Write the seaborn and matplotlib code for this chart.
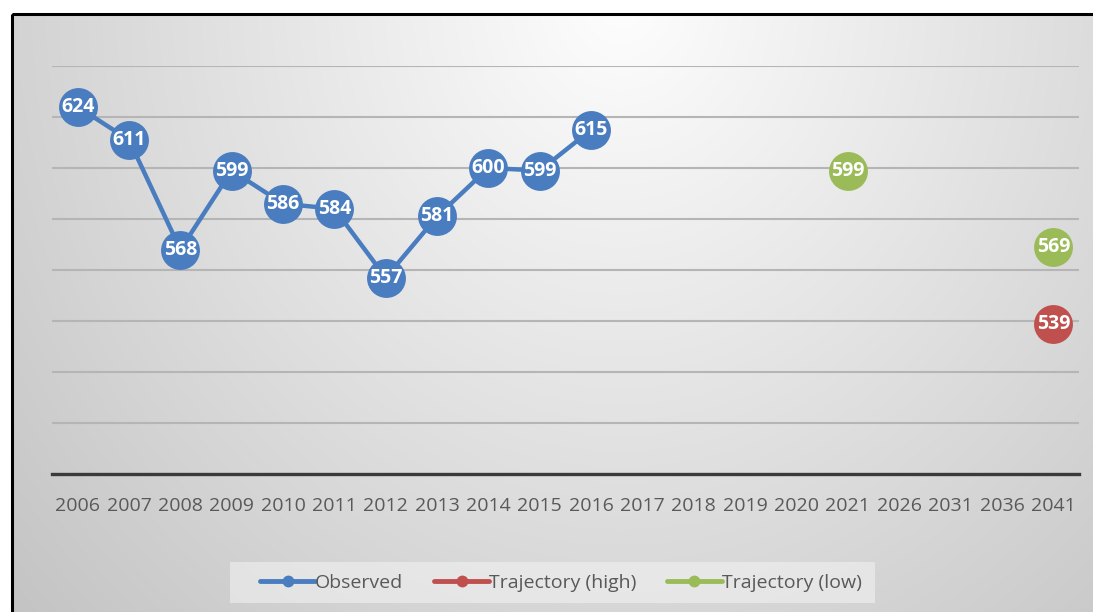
import numpy as np
import pandas as pd
import matplotlib
matplotlib.use("Agg")
import matplotlib.pyplot as plt
import seaborn as sns
from matplotlib.lines import Line2D
from matplotlib.patches import Rectangle

# ---- data ----
years = ["2006", "2007", "2008", "2009", "2010", "2011", "2012", "2013", "2014",
         "2015", "2016", "2017", "2018", "2019", "2020", "2021", "2026", "2031",
         "2036", "2041"]
observed_years = ["2006", "2007", "2008", "2009", "2010", "2011", "2012", "2013",
                  "2014", "2015", "2016"]
observed = [624, 611, 568, 599, 586, 584, 557, 581, 600, 599, 615]
high_years = ["2041"]
high = [539]
low_years = ["2021", "2041"]
low = [599, 569]
series_names = ["Observed", "Trajectory (high)", "Trajectory (low)"]

C_OBS = "#4a7dbf"
C_HIGH = "#c0504d"
C_LOW = "#9bbb59"

sns.set_theme(style="white")
plt.rcParams['font.family'] = ['Open Sans', 'DejaVu Sans']

W, H = 1093, 612
fig = plt.figure(figsize=(W / 100, H / 100), dpi=100)

# background gradient
bg = fig.add_axes([0, 0, 1, 1], zorder=-10)
yy, xx = np.mgrid[0:H, 0:W]
cx, cy = 620, 0
d = np.sqrt(((xx - cx) / 720.0) ** 2 + ((yy - cy) / 800.0) ** 2)
val = 0.995 - 0.2 * np.clip(d, 0, 1.3)
img = np.dstack([val, val, val])
img[:14, :, :] = 1.0
img[:, :12, :] = 1.0
bg.imshow(img, aspect="auto", extent=[0, W, H, 0], interpolation="bilinear")
bg.set_xlim(0, W)
bg.set_ylim(H, 0)
bg.axis("off")
bg.add_patch(Rectangle((12, 14), W + 20, H + 20, fill=False, edgecolor="black", lw=2.2))
# legend background box
bg.add_patch(Rectangle((230, 562), 645, 41, facecolor="#f4f4f4", alpha=0.55,
                       edgecolor="none"))

pos = {y: i for i, y in enumerate(years)}
df_obs = pd.DataFrame({"x": [pos[y] for y in observed_years], "v": observed})
df_high = pd.DataFrame({"x": [pos[y] for y in high_years], "v": high})
df_low = pd.DataFrame({"x": [pos[y] for y in low_years], "v": low})

ax = fig.add_axes([52 / W, 1 - 474 / H, (1079 - 52) / W, (474 - 66) / H])
ax.set_facecolor("none")

sns.lineplot(data=df_obs, x="x", y="v", ax=ax, color=C_OBS, lw=3.2,
             marker="o", markersize=28, markeredgewidth=0, zorder=3, legend=False)
sns.scatterplot(data=df_high, x="x", y="v", ax=ax, color=C_HIGH, s=28 ** 2,
                linewidth=0, zorder=3, legend=False)
sns.scatterplot(data=df_low, x="x", y="v", ax=ax, color=C_LOW, s=28 ** 2,
                linewidth=0, zorder=3, legend=False)

for d_ in (df_obs, df_high, df_low):
    for x, v in zip(d_["x"], d_["v"]):
        ax.text(x, v, f"{v}", ha="center", va="center", color="white",
                fontsize=14, fontweight="bold", zorder=5)

ax.set_xlim(-0.5, len(years) - 0.5)
ax.set_ylim(480, 640)
ax.set_yticks(np.arange(480, 641, 20))
ax.yaxis.grid(True, color="#b5b5b5", lw=1.5)
ax.set_axisbelow(True)
ax.tick_params(axis="y", left=False, labelleft=False)
ax.set_xticks(range(len(years)))
ax.set_xticklabels(years, fontsize=14, color="#595959")
ax.tick_params(axis="x", bottom=False, pad=10.5)
for s in ("top", "left", "right"):
    ax.spines[s].set_visible(False)
ax.spines["bottom"].set_color("#3a3a3a")
ax.spines["bottom"].set_linewidth(2.4)
ax.set_xlabel("")
ax.set_ylabel("")

handles = [
    Line2D([], [], color=C_OBS, lw=3.5, marker="o", markersize=7.5),
    Line2D([], [], color=C_HIGH, lw=3.5, marker="o", markersize=7.5),
    Line2D([], [], color=C_LOW, lw=3.5, marker="o", markersize=7.5),
]
leg = fig.legend(handles, series_names,
                 loc="center", bbox_to_anchor=(561 / W, 1 - 583 / H), ncol=3,
                 frameon=False, fontsize=14, handlelength=2.8, handletextpad=0.0,
                 columnspacing=1.6, borderpad=0.2)
for t in leg.get_texts():
    t.set_color("#595959")

fig.savefig("out.png", dpi=100)
